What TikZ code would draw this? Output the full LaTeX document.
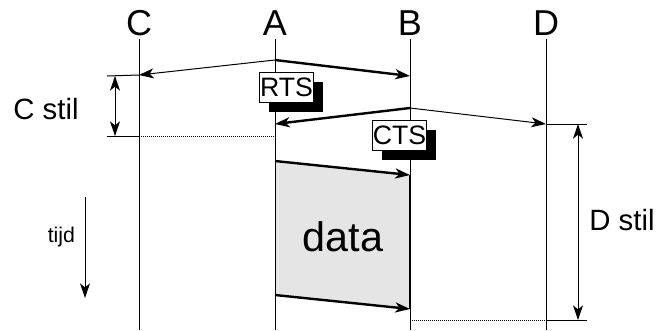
\documentclass[tikz,border=0pt]{standalone}
\usepackage{fontspec}
\setmainfont{Liberation Sans}
\usetikzlibrary{arrows.meta,shadows}
\tikzset{
  tip/.style={-{Stealth[length=11pt,width=7.5pt,inset=3pt]}},
  tips/.style={{Stealth[length=11pt,width=7.5pt,inset=3pt]}-{Stealth[length=11pt,width=7.5pt,inset=3pt]}},
  msg/.style={draw,fill=white,line width=0.75pt,inner sep=0pt,minimum width=40pt,minimum height=23pt,
    font=\fontsize{20}{20}\selectfont,
    drop shadow={shadow xshift=7pt,shadow yshift=-7pt,fill=black,opacity=1}},
}
\begin{document}
\begin{tikzpicture}[x=0.75pt,y=-0.75pt,line width=0.75pt]
\useasboundingbox (0,0) rectangle (661,330);
% stations
\node[font=\fontsize{27}{27}\selectfont] (C) at (139,23) {C};
\node[font=\fontsize{27}{27}\selectfont] (A) at (275,23) {A};
\node[font=\fontsize{27}{27}\selectfont] (B) at (410,23) {B};
\node[font=\fontsize{27}{27}\selectfont] (D) at (546,23) {D};
\coordinate (Cb) at (139,330);
\coordinate (Ab) at (275,330);
\coordinate (Bb) at (410,330);
\coordinate (Db) at (546,330);
\draw (139,39) -- (Cb);
\draw (275,39) -- (Ab);
\draw (410,39) -- (Bb);
\draw (546,39) -- (Db);
% data frame
\coordinate (d1) at (275,161);
\coordinate (d2) at (410,175);
\coordinate (d3) at (410,309);
\coordinate (d4) at (275,295);
\fill[gray!20] (d1) -- (d2) -- (d3) -- (d4) -- cycle;
\draw (d1) -- (d4);
\draw[line width=1.8pt] (d2) -- (d3);
\draw[line width=1.8pt,tip] (d1) -- (d2);
\draw[line width=1.8pt,tip] (d4) -- (d3);
\node[font=\fontsize{31}{31}\selectfont] (data) at (343,237) {data};
% RTS
\coordinate (rA) at (275,60);
\coordinate (rC) at (139,75);
\coordinate (rB) at (410,76);
\draw[tip] (rA) -- (rC);
\draw[line width=1.8pt,tip] (rA) -- (rB);
\node[msg] (rts) at (286.5,87.5) {RTS};
% CTS
\coordinate (cB) at (410,108);
\coordinate (cA) at (275,124);
\coordinate (cD) at (546,124);
\draw[line width=1.8pt,tip] (cB) -- (cA);
\draw[tip] (cB) -- (cD);
\node[msg] (cts) at (399.5,135.5) {CTS};
% C stil
\coordinate (c1) at (107,76);
\coordinate (c2) at (107,136);
\coordinate (c3) at (139,136);
\draw (c1) -- (rC);
\draw (c2) -- (c3);
\draw[densely dotted,line width=0.5pt] (c3) -- (275,136);
\draw[tips] (115,76) -- (115,136);
\node[font=\fontsize{22}{22}\selectfont] (cstil) at (46,109) {C stil};
% D stil
\coordinate (e1) at (587,124);
\coordinate (e2) at (546,320);
\coordinate (e3) at (587,320);
\draw (cD) -- (e1);
\draw (e2) -- (e3);
\draw[densely dotted,line width=0.5pt] (410,320) -- (e2);
\draw[tips] (578,124) -- (578,320);
\node[font=\fontsize{22}{22}\selectfont] (dstil) at (622,220) {D stil};
% time
\coordinate (t1) at (85,197);
\coordinate (t2) at (85,298);
\draw[tip] (t1) -- (t2);
\node[font=\fontsize{16}{16}\selectfont,left] (tijd) at (80,237) {tijd};
\end{tikzpicture}
\end{document}
